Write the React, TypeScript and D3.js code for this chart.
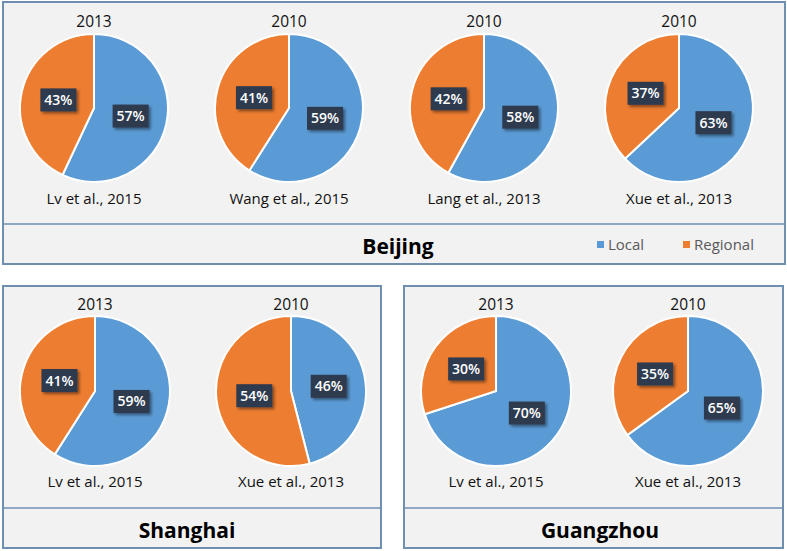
import React from "react";
import * as d3 from "d3";

const beijingYears = ["2013", "2010", "2010", "2010"];
const beijingSources = ["Lv et al., 2015", "Wang et al., 2015", "Lang et al., 2013", "Xue et al., 2013"];
const beijingLocal = [57, 59, 58, 63];
const beijingRegional = [43, 41, 42, 37];

const shanghaiYears = ["2013", "2010"];
const shanghaiSources = ["Lv et al., 2015", "Xue et al., 2013"];
const shanghaiLocal = [59, 46];
const shanghaiRegional = [41, 54];

const guangzhouYears = ["2013", "2010"];
const guangzhouSources = ["Lv et al., 2015", "Xue et al., 2013"];
const guangzhouLocal = [70, 65];
const guangzhouRegional = [30, 35];

const seriesNames = ["Local", "Regional"];
const colors = ["#5b9bd5", "#ed7d31"];

const FONT = "'Open Sans', 'Noto Sans', sans-serif";
const BORDER = "#6f8fb0";
const PANEL_BG = "#f2f2f2";

type PanelProps = {
  x0: number; x1: number; y0: number; y1: number; divY: number;
  title: string; titleX: number;
  years: string[]; sources: string[]; local: number[]; regional: number[];
  cxRange: [number, number]; cy: number; r: number; yearY: number; srcY: number;
  legend?: boolean;
};

const color = d3.scaleOrdinal<string, string>().domain(seriesNames).range(colors);
const pieGen = d3.pie<{ name: string; value: number }>().sort(null).value((d) => d.value);

function Panel(p: PanelProps) {
  const xs = d3.scalePoint<number>().domain(p.years.map((_, i) => i)).range(p.cxRange);
  const arc = d3.arc<d3.PieArcDatum<{ name: string; value: number }>>().innerRadius(0).outerRadius(p.r);
  return (
    <g>
      <rect x={p.x0} y={p.y0} width={p.x1 - p.x0} height={p.y1 - p.y0} fill={PANEL_BG} stroke={BORDER} strokeWidth={2} />
      <line x1={p.x0} x2={p.x1} y1={p.divY} y2={p.divY} stroke={BORDER} strokeWidth={1.5} />
      {p.years.map((yr, i) => {
        const cx = xs(i) as number;
        const data = [
          { name: seriesNames[0], value: p.local[i] },
          { name: seriesNames[1], value: p.regional[i] },
        ];
        const arcs = pieGen(data);
        return (
          <g key={i}>
            <text x={cx} y={p.yearY} textAnchor="middle" fontFamily={FONT} fontSize={15.5} fontWeight={500} fill="#111">{yr}</text>
            <g transform={`translate(${cx},${p.cy})`}>
              {arcs.map((a, j) => (
                <path key={j} d={arc(a) as string} fill={color(a.data.name)} stroke="#fff" strokeWidth={2} />
              ))}
              {arcs.map((a, j) => {
                const [lx, ly] = arc.centroid(a);
                return (
                  <g key={"l" + j} transform={`translate(${lx},${ly})`}>
                    <rect x={-17.5} y={-11.5} width={36} height={23} fill="#2e3a4f" filter="url(#shadow)" />
                    <text x={0.5} y={5} textAnchor="middle" fontFamily={FONT} fontSize={14} fontWeight={600} fill="#fff">{a.data.value}%</text>
                  </g>
                );
              })}
            </g>
            <text x={cx} y={p.srcY} textAnchor="middle" fontFamily={FONT} fontSize={15} fontWeight={500} fill="#111">{p.sources[i]}</text>
          </g>
        );
      })}
      <text x={p.titleX} y={p.divY + 30} textAnchor="middle" fontFamily={FONT} fontSize={21} fontWeight={700} fill="#000">{p.title}</text>
      {p.legend && (
        <g>
          {seriesNames.map((n, k) => {
            const lx = [597, 683][k];
            return (
              <g key={n}>
                <rect x={lx} y={(p.divY + p.y1) / 2 - 3} width={7} height={7} fill={color(n)} />
                <text x={lx + 11} y={(p.divY + p.y1) / 2 + 5.5} fontFamily={FONT} fontSize={15} fontWeight={500} fill="#595959">{n}</text>
              </g>
            );
          })}
        </g>
      )}
    </g>
  );
}

export default function App() {
  return (
    <svg width={787} height={551} style={{ position: "absolute", left: 0, top: 0, background: "#fff" }}>
      <defs>
        <filter id="shadow" x="-30%" y="-30%" width="170%" height="180%">
          <feDropShadow dx={2} dy={2} stdDeviation={1.5} floodColor="#000" floodOpacity={0.45} />
        </filter>
      </defs>
      <Panel x0={3} x1={785} y0={2} y1={264} divY={224} title="Beijing" titleX={398}
        years={beijingYears} sources={beijingSources} local={beijingLocal} regional={beijingRegional}
        cxRange={[94, 679]} cy={108} r={74} yearY={27} srcY={204} legend />
      <Panel x0={3} x1={381} y0={286} y1={548} divY={508} title="Shanghai" titleX={187}
        years={shanghaiYears} sources={shanghaiSources} local={shanghaiLocal} regional={shanghaiRegional}
        cxRange={[95, 291]} cy={391} r={75} yearY={310} srcY={487} />
      <Panel x0={404} x1={783} y0={286} y1={548} divY={508} title="Guangzhou" titleX={600}
        years={guangzhouYears} sources={guangzhouSources} local={guangzhouLocal} regional={guangzhouRegional}
        cxRange={[496, 688]} cy={391} r={75} yearY={310} srcY={487} />
    </svg>
  );
}
